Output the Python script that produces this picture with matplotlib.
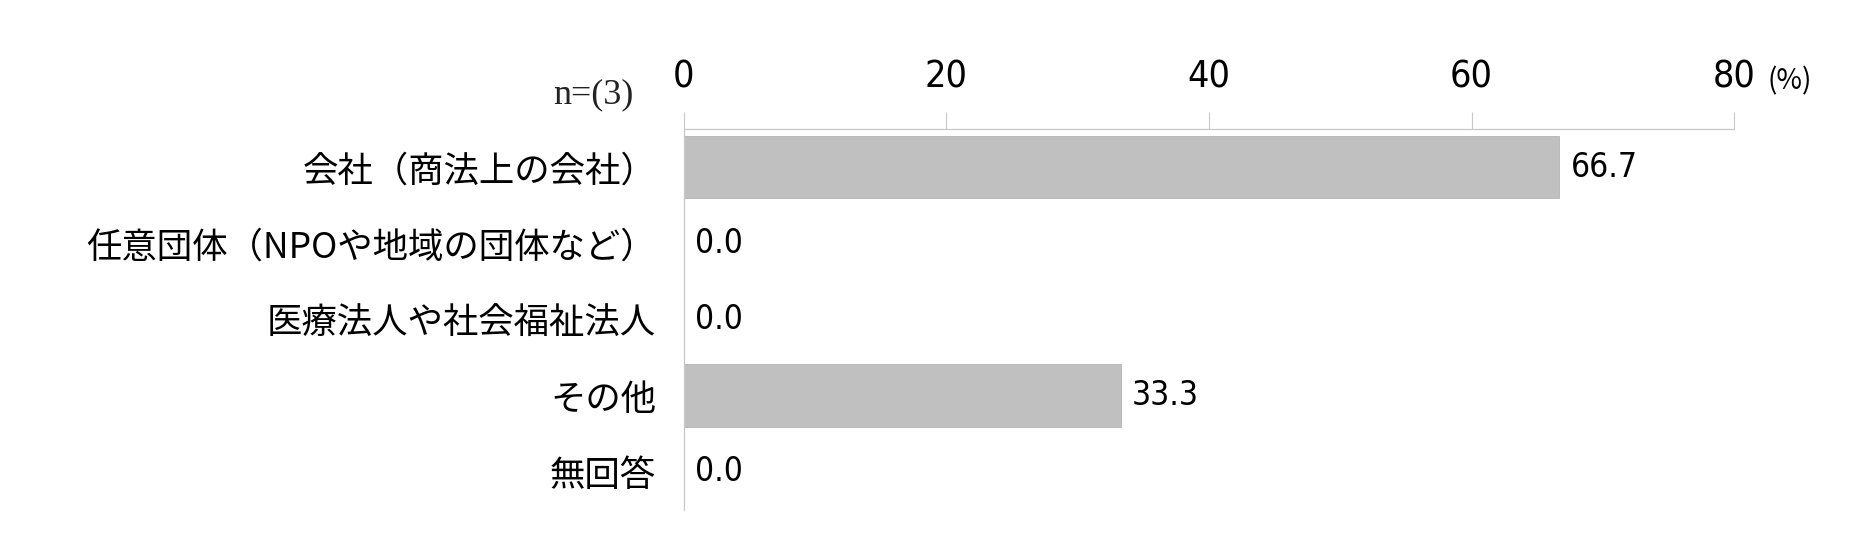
import matplotlib
matplotlib.use('Agg')
import matplotlib.pyplot as plt

# dati
categorie = ['会社（商法上の会社）', '任意団体（NPOや地域の団体など）', '医療法人や社会福祉法人', 'その他', '無回答']
valori = [66.7, 0.0, 0.0, 33.3, 0.0]
tick_x = [0, 20, 40, 60, 80]
n_label = 'n=(3)'

plt.rcParams['font.family'] = ['Noto Sans CJK JP', 'DejaVu Sans']

fig = plt.figure(figsize=(18.52, 5.36), dpi=100)
ax = fig.add_axes([0.3693, 0.0485, 0.567, 0.7108])

y = list(range(len(categorie)))
ax.barh(y, valori, height=0.82, color='#c0c0c0', edgecolor='#b4b4b4', linewidth=0.6)

ax.set_xlim(0, 80)
ax.set_ylim(len(categorie) - 0.5, -0.5)

ax.xaxis.tick_top()
ax.set_xticks(tick_x)
ax.set_xticklabels([str(t) for t in tick_x], family='DejaVu Sans', stretch='condensed', fontsize=27)
ax.tick_params(axis='x', direction='out', length=12, width=0.8, color='#c8c8c8', pad=12)
ax.set_yticks(y)
ax.set_yticklabels(categorie, fontsize=25.5)
ax.tick_params(axis='y', length=0, pad=20)

for s in ['right', 'bottom']:
    ax.spines[s].set_visible(False)
for s in ['top', 'left']:
    ax.spines[s].set_color('#c8c8c8')
    ax.spines[s].set_linewidth(0.9)

# etichette valori
for i, v in enumerate(valori):
    ax.annotate(f'{v:.1f}', (v, i), xytext=(11, 0), textcoords='offset pixels',
                va='center', ha='left', family='DejaVu Sans', stretch='condensed', fontsize=24)

fig.text(634 / 1852, 1 - 95 / 536, n_label, family='Liberation Serif', fontsize=26,
         ha='right', va='center', color='#222222')
fig.text(1768 / 1852, 1 - 81 / 536, '(%)', fontsize=20, ha='left', va='center')

fig.savefig('out.png', dpi=100)
